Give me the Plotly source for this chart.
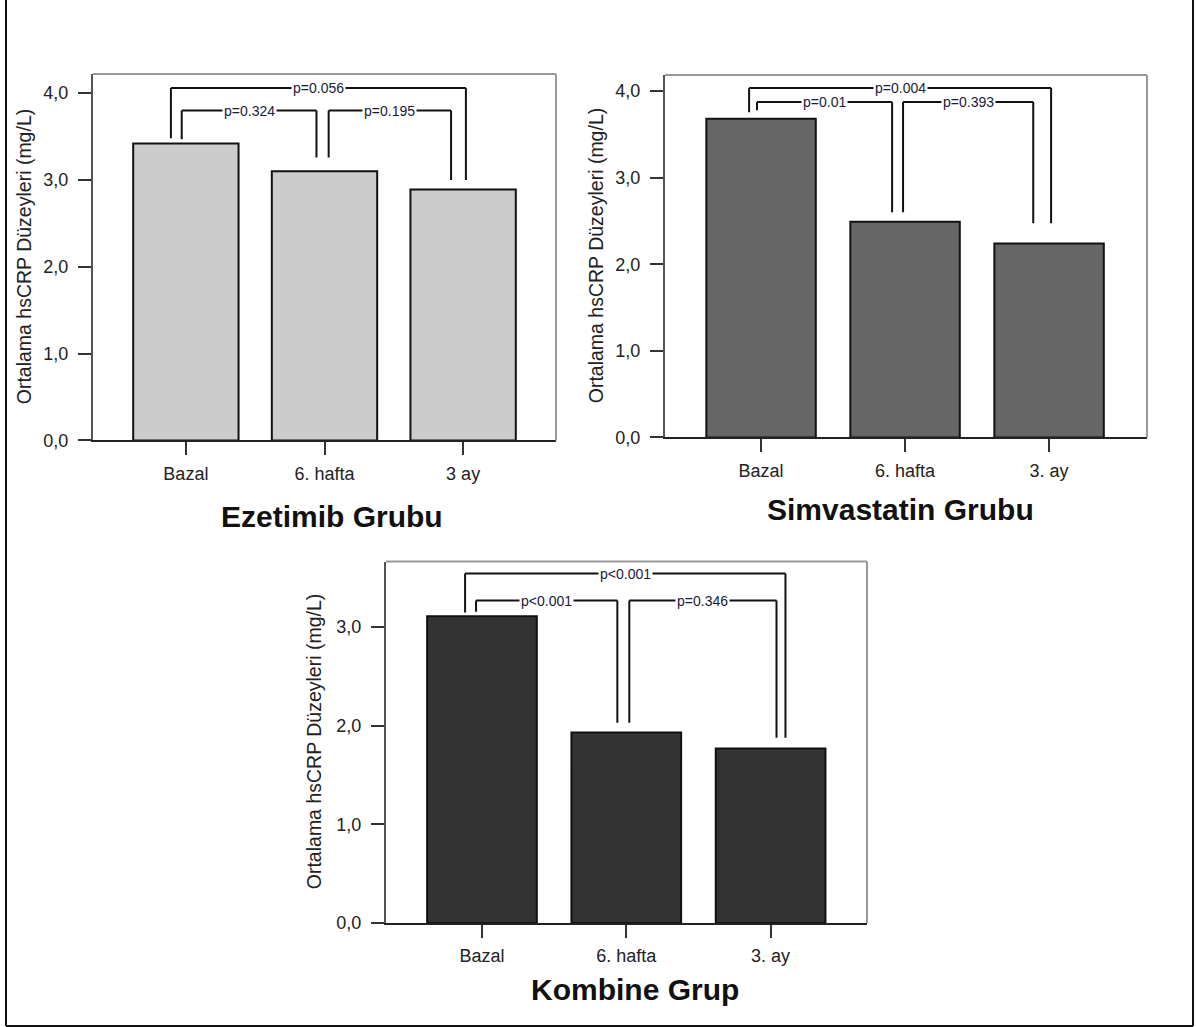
import plotly.graph_objects as go

FONT = "Arial, 'Liberation Sans', sans-serif"
W = 1196
REF_H = 1027          # pixel space the positions below are measured in
H = 1038              # figure height (page is fitted into the 1027 px window)

# ---------------- data ----------------
categories_ezetimib = ["Bazal", "6. hafta", "3 ay"]
categories_simva = ["Bazal", "6. hafta", "3. ay"]
categories_kombine = ["Bazal", "6. hafta", "3. ay"]

values_ezetimib = [3.42, 3.10, 2.89]
values_simva = [3.68, 2.49, 2.24]
values_kombine = [3.11, 1.93, 1.77]

pvals_ezetimib = ["p=0.056", "p=0.324", "p=0.195"]
pvals_simva = ["p=0.004", "p=0.01", "p=0.393"]
pvals_kombine = ["p<0.001", "p<0.001", "p=0.346"]

group_titles = ["Ezetimib Grubu", "Simvastatin Grubu", "Kombine Grup"]
y_title = "Ortalama hsCRP Düzeyleri (mg/L)"

# ---------------- layout spec (pixels) ----------------
panels = [
    dict(cats=categories_ezetimib, vals=values_ezetimib, pv=pvals_ezetimib,
         title=group_titles[0], color="#cccccc",
         px=(93, 556), py=(74, 440), yrange=(0, 4.22), xrange=(-0.67, 2.67),
         ytitle_x=24, title_xy=(332, 516),
         brackets=[(0, 2, 4.06, -0.108, 0.02, 0.06, 0.11),
                   (0, 1, 3.80, -0.03, -0.058, 0.05, 0.16),
                   (1, 2, 3.80, 0.03, -0.087, 0.16, 0.11)]),
    dict(cats=categories_simva, vals=values_simva, pv=pvals_simva,
         title=group_titles[1], color="#666666",
         px=(665, 1147), py=(75, 437), yrange=(0, 4.185), xrange=(-0.667, 2.68),
         ytitle_x=596, title_xy=(900, 509),
         brackets=[(0, 2, 4.035, -0.083, 0.014, 0.077, 0.234),
                   (0, 1, 3.873, -0.028, -0.09, 0.10, 0.11),
                   (1, 2, 3.873, -0.014, -0.11, 0.11, 0.234)]),
    dict(cats=categories_kombine, vals=values_kombine, pv=pvals_kombine,
         title=group_titles[2], color="#333333",
         px=(386, 867), py=(561, 922), yrange=(0, 3.665), xrange=(-0.665, 2.668),
         ytitle_x=314, title_xy=(635, 989),
         brackets=[(0, 2, 3.543, -0.117, 0.103, 0.037, 0.108),
                   (0, 1, 3.269, -0.041, -0.062, 0.047, 0.10),
                   (1, 2, 3.269, 0.021, 0.041, 0.10, 0.108)]),
]


def fy(py):
    return 1 - py / REF_H


fig = go.Figure()
shapes = []
annotations = []

for k, p in enumerate(panels):
    n = "" if k == 0 else str(k + 1)
    xa, ya = "x" + n, "y" + n
    xdom = [p["px"][0] / W, p["px"][1] / W]
    ydom = [fy(p["py"][1]), fy(p["py"][0])]

    fig.add_trace(go.Bar(
        x=p["cats"], y=p["vals"], xaxis=xa, yaxis=ya,
        marker=dict(color=p["color"], line=dict(color="#111111", width=2)),
        width=0.76, showlegend=False, hoverinfo="x+y"))

    axis_common = dict(showgrid=False, zeroline=False, ticks="outside",
                       ticklen=13, tickwidth=2, tickcolor="#333333",
                       tickfont=dict(family=FONT, size=18, color="#222222"),
                       showline=True, linewidth=2)
    fig.layout["xaxis" + n] = dict(domain=xdom, anchor=ya, type="category",
                                   categoryorder="array", categoryarray=p["cats"],
                                   range=list(p["xrange"]), linecolor="#222222",
                                   ticklabelstandoff=3, **axis_common)
    fig.layout["yaxis" + n] = dict(domain=ydom, anchor=xa, range=list(p["yrange"]),
                                   dtick=1, tickformat=".1f", linecolor="#555555",
                                   ticklabelstandoff=6, **axis_common)

    # top and right frame lines
    shapes.append(dict(type="line", xref=xa + " domain", yref=ya + " domain",
                       x0=0, x1=1, y0=1, y1=1, line=dict(color="#999999", width=2)))
    shapes.append(dict(type="line", xref=xa + " domain", yref=ya + " domain",
                       x0=1, x1=1, y0=0, y1=1, line=dict(color="#999999", width=2)))

    # significance brackets
    for b, (i, j, lvl, dxi, dxj, gi, gj) in enumerate(p["brackets"]):
        x1, x2 = i + dxi, j + dxj
        yb1, yb2 = p["vals"][i] + gi, p["vals"][j] + gj
        ln = dict(color="#111111", width=2)
        shapes.append(dict(type="line", xref=xa, yref=ya, x0=x1, x1=x1, y0=yb1, y1=lvl, line=ln))
        shapes.append(dict(type="line", xref=xa, yref=ya, x0=x1, x1=x2, y0=lvl, y1=lvl, line=ln))
        shapes.append(dict(type="line", xref=xa, yref=ya, x0=x2, x1=x2, y0=yb2, y1=lvl, line=ln))
        annotations.append(dict(xref=xa, yref=ya, x=(x1 + x2) / 2, y=lvl, text=p["pv"][b],
                                showarrow=False, bgcolor="white", borderpad=1,
                                font=dict(family=FONT, size=14, color="#1a1a3a"),
                                xanchor="center", yanchor="middle"))

    # y-axis title
    annotations.append(dict(xref="paper", yref="paper", x=p["ytitle_x"] / W,
                            y=fy((p["py"][0] + p["py"][1]) / 2), text=y_title,
                            textangle=-90, showarrow=False, xanchor="center", yanchor="middle",
                            font=dict(family=FONT, size=19.5, color="#222222")))
    # group title
    annotations.append(dict(xref="paper", yref="paper", x=p["title_xy"][0] / W,
                            y=fy(p["title_xy"][1]), text="<b>" + p["title"] + "</b>",
                            showarrow=False, xanchor="center", yanchor="middle",
                            font=dict(family=FONT, size=30, color="#111111")))

# outer border (left, bottom, right)
border = dict(color="#111111", width=2)
shapes.append(dict(type="line", xref="paper", yref="paper", x0=6 / W, x1=6 / W, y0=1, y1=fy(1025), line=border))
shapes.append(dict(type="line", xref="paper", yref="paper", x0=6 / W, x1=1193 / W, y0=fy(1025), y1=fy(1025), line=border))
shapes.append(dict(type="line", xref="paper", yref="paper", x0=1193 / W, x1=1193 / W, y0=1, y1=fy(1025), line=border))

fig.update_layout(width=W, height=H, autosize=False, margin=dict(l=0, r=0, t=0, b=0),
                  paper_bgcolor="white", plot_bgcolor="white",
                  separators=", ", shapes=shapes, annotations=annotations,
                  font=dict(family=FONT))

POST = """
document.documentElement.style.margin = '0';
document.body.style.margin = '0';
document.body.style.overflow = 'hidden';
"""

fig.write_html("out.html",
               config={"displayModeBar": False, "responsive": False},
               post_script=POST)
